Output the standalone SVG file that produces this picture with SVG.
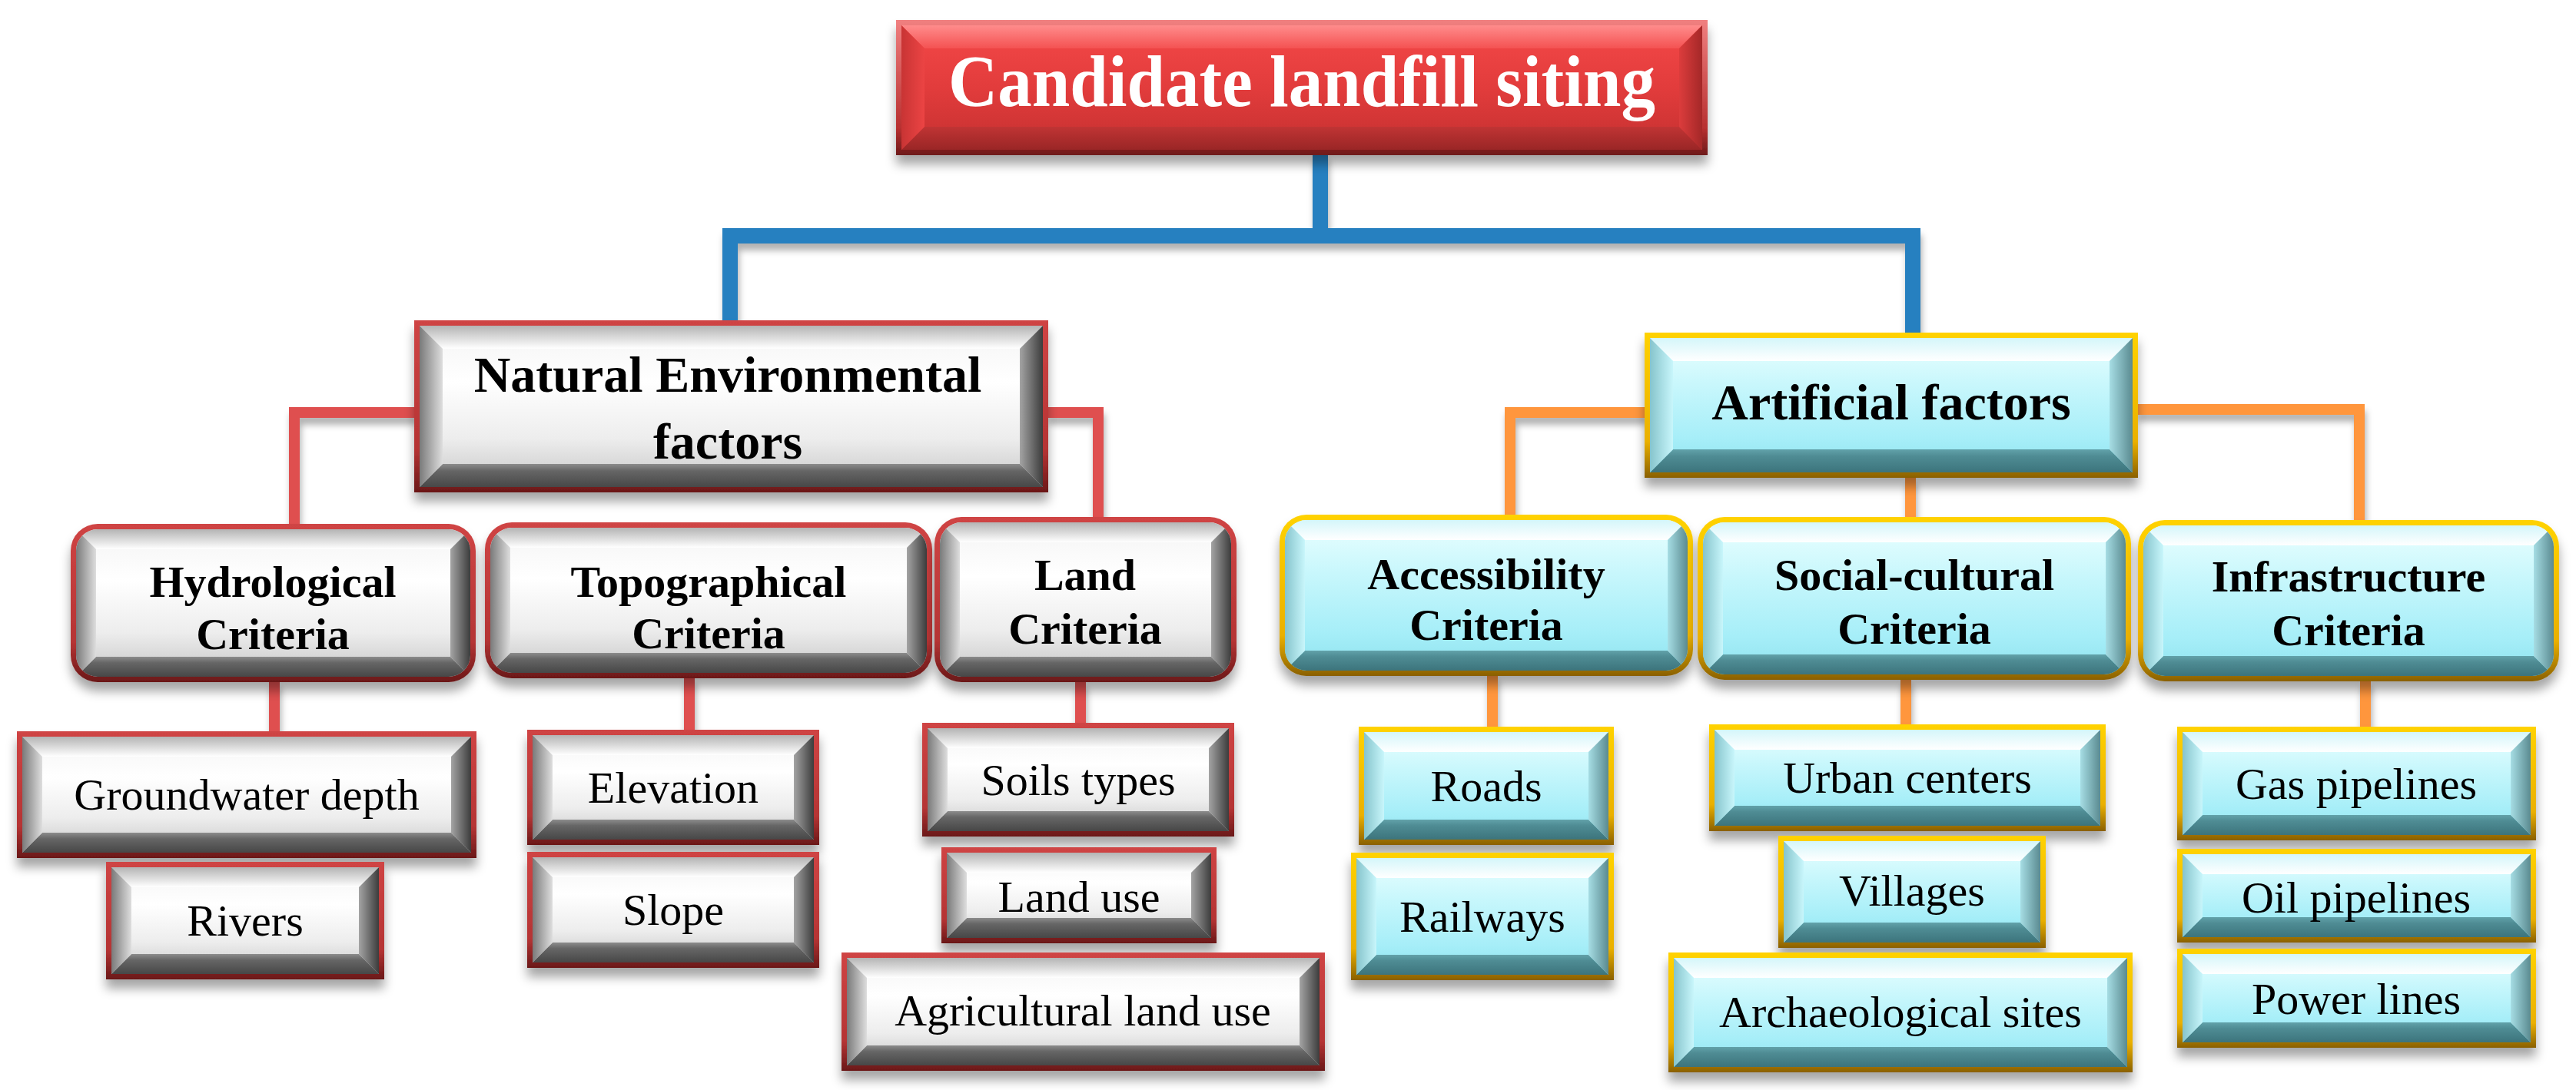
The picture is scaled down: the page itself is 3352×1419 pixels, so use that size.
<svg xmlns="http://www.w3.org/2000/svg" width="3352" height="1419" viewBox="0 0 3352 1419">
<defs>
<style>
.bR{fill:url(#bdRed)} .bG{fill:url(#bdGold)} .bT{fill:url(#bdTitle)}
.gc{fill:url(#gC)} .gt{fill:url(#gT)} .gb{fill:url(#gB)} .gl{fill:url(#gL)} .gr{fill:url(#gR)}
.cc{fill:url(#cC)} .ct{fill:url(#cT)} .cb{fill:url(#cB)} .cl{fill:url(#cL)} .cr{fill:url(#cR)}
.rc{fill:url(#rC)} .rt{fill:url(#rT)} .rb{fill:url(#rB)} .rl{fill:url(#rL)} .rr{fill:url(#rR)}
text{font-family:"Liberation Serif","Times New Roman",serif;text-anchor:middle;fill:#000}
.tt{font-size:95px;font-weight:bold;fill:#fff}
.tm{font-size:66px;font-weight:bold}
.tc{font-size:58px;font-weight:bold}
.tl{font-size:58px}
.cn{fill:none;stroke-linejoin:miter;stroke-linecap:butt}
.blue{stroke:#2780c0;stroke-width:20}
.red{stroke:#df4f4f;stroke-width:14}
.org{stroke:#ff963c;stroke-width:14}
</style>
<filter id="sh" x="-10%" y="-20%" width="120%" height="160%"><feDropShadow dx="0" dy="12" stdDeviation="7" flood-color="#000" flood-opacity="0.35"/></filter>
<filter id="shc" x="-20%" y="-20%" width="140%" height="140%"><feDropShadow dx="2" dy="9" stdDeviation="4" flood-color="#000" flood-opacity="0.3"/></filter>
<linearGradient id="bdRed" x1="0" y1="0" x2="0" y2="1"><stop offset="0" stop-color="#cf4444"/><stop offset="0.75" stop-color="#b53434"/><stop offset="1" stop-color="#6a1818"/></linearGradient>
<linearGradient id="bdGold" x1="0" y1="0" x2="0" y2="1"><stop offset="0" stop-color="#ffd200"/><stop offset="0.75" stop-color="#eab000"/><stop offset="1" stop-color="#8a6000"/></linearGradient>
<linearGradient id="bdTitle" x1="0" y1="0" x2="0" y2="1"><stop offset="0" stop-color="#f08080"/><stop offset="0.8" stop-color="#b83030"/><stop offset="1" stop-color="#6e1a1a"/></linearGradient>
<linearGradient id="gC" x1="0" y1="0" x2="0" y2="1"><stop offset="0" stop-color="#f4f4f4"/><stop offset="0.35" stop-color="#ffffff"/><stop offset="0.7" stop-color="#ededed"/><stop offset="1" stop-color="#c6c6c6"/></linearGradient>
<linearGradient id="gT" x1="0" y1="0" x2="0" y2="1"><stop offset="0" stop-color="#b4b4b4"/><stop offset="1" stop-color="#ffffff"/></linearGradient>
<linearGradient id="gB" x1="0" y1="0" x2="0" y2="1"><stop offset="0" stop-color="#8c8c8c"/><stop offset="0.3" stop-color="#666666"/><stop offset="1" stop-color="#474747"/></linearGradient>
<linearGradient id="gL" x1="0" y1="0" x2="1" y2="0"><stop offset="0" stop-color="#7a7a7a"/><stop offset="1" stop-color="#dedede"/></linearGradient>
<linearGradient id="gR" x1="0" y1="0" x2="1" y2="0"><stop offset="0" stop-color="#a4a4a4"/><stop offset="1" stop-color="#3c3c3c"/></linearGradient>
<linearGradient id="cC" x1="0" y1="0" x2="0" y2="1"><stop offset="0" stop-color="#eaffff"/><stop offset="0.35" stop-color="#c8f7fc"/><stop offset="0.75" stop-color="#a6eef8"/><stop offset="1" stop-color="#8ee2ee"/></linearGradient>
<linearGradient id="cT" x1="0" y1="0" x2="0" y2="1"><stop offset="0" stop-color="#d4f6fa"/><stop offset="1" stop-color="#ffffff"/></linearGradient>
<linearGradient id="cB" x1="0" y1="0" x2="0" y2="1"><stop offset="0" stop-color="#62a2aa"/><stop offset="0.3" stop-color="#4f8c94"/><stop offset="1" stop-color="#3c747c"/></linearGradient>
<linearGradient id="cL" x1="0" y1="0" x2="1" y2="0"><stop offset="0" stop-color="#86c4cc"/><stop offset="1" stop-color="#c8f6fb"/></linearGradient>
<linearGradient id="cR" x1="0" y1="0" x2="1" y2="0"><stop offset="0" stop-color="#a6dde4"/><stop offset="1" stop-color="#5a8a90"/></linearGradient>
<linearGradient id="rC" x1="0" y1="0" x2="0" y2="1"><stop offset="0" stop-color="#f44848"/><stop offset="0.5" stop-color="#e23c3c"/><stop offset="1" stop-color="#c53030"/></linearGradient>
<linearGradient id="rT" x1="0" y1="0" x2="0" y2="1"><stop offset="0" stop-color="#ff8c8c"/><stop offset="1" stop-color="#f45252"/></linearGradient>
<linearGradient id="rB" x1="0" y1="0" x2="0" y2="1"><stop offset="0" stop-color="#c03434"/><stop offset="1" stop-color="#9a2626"/></linearGradient>
<linearGradient id="rL" x1="0" y1="0" x2="1" y2="0"><stop offset="0" stop-color="#c83434"/><stop offset="1" stop-color="#ec4444"/></linearGradient>
<linearGradient id="rR" x1="0" y1="0" x2="1" y2="0"><stop offset="0" stop-color="#dc3c3c"/><stop offset="1" stop-color="#a42828"/></linearGradient>
<clipPath id="k-hydro"><rect x="7" y="7" width="513" height="192" rx="28"/></clipPath>
<clipPath id="k-topo"><rect x="7" y="7" width="568" height="189" rx="28"/></clipPath>
<clipPath id="k-land"><rect x="7" y="7" width="379" height="201" rx="28"/></clipPath>
<clipPath id="k-access"><rect x="7" y="7" width="524" height="196" rx="28"/></clipPath>
<clipPath id="k-social"><rect x="7" y="7" width="550" height="198" rx="28"/></clipPath>
<clipPath id="k-infra"><rect x="7" y="7" width="534" height="196" rx="28"/></clipPath>
</defs>
<rect width="3352" height="1419" fill="#ffffff"/>

<g id="connectors" filter="url(#shc)">
<path class="cn blue" d="M1718,200 V307"/>
<path class="cn blue" d="M950,420 V307 H2489 V436"/>
<path class="cn red" d="M541,537 H383 V684"/>
<path class="cn red" d="M1362,537 H1429 V676"/>
<path class="cn red" d="M357,886 V954"/>
<path class="cn red" d="M897,881 V952"/>
<path class="cn red" d="M1406,886 V943"/>
<path class="cn org" d="M2142,537 H1965 V672"/>
<path class="cn org" d="M2780,533 H3070 V679"/>
<path class="cn org" d="M2486,620 V675"/>
<path class="cn org" d="M1942,878 V948"/>
<path class="cn org" d="M2480,883 V945"/>
<path class="cn org" d="M3078,885 V948"/>
</g>

<g id="n-title" transform="translate(1166,26)">
<rect class="bT" width="1056" height="176" filter="url(#sh)"/>
<rect class="rc" x="7" y="7" width="1042" height="162"/>
<polygon class="rt" points="7,7 1049,7 1019,37 37,37"/>
<polygon class="rb" points="7,169 1049,169 1019,139 37,139"/>
<polygon class="rl" points="7,7 37,37 37,139 7,169"/>
<polygon class="rr" points="1049,7 1019,37 1019,139 1049,169"/>
<text class="tt" x="528" y="112" textLength="920" lengthAdjust="spacingAndGlyphs">Candidate landfill siting</text>
</g>

<g id="n-natural" transform="translate(539,417)">
<rect class="bR" width="825" height="224" filter="url(#sh)"/>
<rect class="gc" x="7" y="7" width="811" height="210"/>
<polygon class="gt" points="7,7 818,7 788,37 37,37"/>
<polygon class="gb" points="7,217 818,217 788,187 37,187"/>
<polygon class="gl" points="7,7 37,37 37,187 7,217"/>
<polygon class="gr" points="818,7 788,37 788,187 818,217"/>
<text class="tm" x="408" y="93">Natural Environmental</text>
<text class="tm" x="408" y="180">factors</text>
</g>

<g id="n-artificial" transform="translate(2140,433)">
<rect class="bG" width="642" height="189" filter="url(#sh)"/>
<rect class="cc" x="7" y="7" width="628" height="175"/>
<polygon class="ct" points="7,7 635,7 605,37 37,37"/>
<polygon class="cb" points="7,182 635,182 605,152 37,152"/>
<polygon class="cl" points="7,7 37,37 37,152 7,182"/>
<polygon class="cr" points="635,7 605,37 605,152 635,182"/>
<text class="tm" x="321" y="113">Artificial factors</text>
</g>

<g id="n-hydro" transform="translate(92,682)">
<rect class="bR" width="527" height="206" rx="35" filter="url(#sh)"/>
<g clip-path="url(#k-hydro)">
<rect class="gc" x="7" y="7" width="513" height="192"/>
<polygon class="gt" points="7,7 520,7 494,33 33,33"/>
<polygon class="gb" points="7,199 520,199 494,173 33,173"/>
<polygon class="gl" points="7,7 33,33 33,173 7,199"/>
<polygon class="gr" points="520,7 494,33 494,173 520,199"/>
</g>
<text class="tc" x="263" y="95">Hydrological</text>
<text class="tc" x="263" y="163">Criteria</text>
</g>

<g id="n-topo" transform="translate(631,680)">
<rect class="bR" width="582" height="203" rx="35" filter="url(#sh)"/>
<g clip-path="url(#k-topo)">
<rect class="gc" x="7" y="7" width="568" height="189"/>
<polygon class="gt" points="7,7 575,7 549,33 33,33"/>
<polygon class="gb" points="7,196 575,196 549,170 33,170"/>
<polygon class="gl" points="7,7 33,33 33,170 7,196"/>
<polygon class="gr" points="575,7 549,33 549,170 575,196"/>
</g>
<text class="tc" x="291" y="97">Topographical</text>
<text class="tc" x="291" y="164">Criteria</text>
</g>

<g id="n-land" transform="translate(1216,673)">
<rect class="bR" width="393" height="215" rx="35" filter="url(#sh)"/>
<g clip-path="url(#k-land)">
<rect class="gc" x="7" y="7" width="379" height="201"/>
<polygon class="gt" points="7,7 386,7 360,33 33,33"/>
<polygon class="gb" points="7,208 386,208 360,182 33,182"/>
<polygon class="gl" points="7,7 33,33 33,182 7,208"/>
<polygon class="gr" points="386,7 360,33 360,182 386,208"/>
</g>
<text class="tc" x="196" y="95">Land</text>
<text class="tc" x="196" y="165">Criteria</text>
</g>

<g id="n-access" transform="translate(1665,670)">
<rect class="bG" width="538" height="210" rx="35" filter="url(#sh)"/>
<g clip-path="url(#k-access)">
<rect class="cc" x="7" y="7" width="524" height="196"/>
<polygon class="ct" points="7,7 531,7 505,33 33,33"/>
<polygon class="cb" points="7,203 531,203 505,177 33,177"/>
<polygon class="cl" points="7,7 33,33 33,177 7,203"/>
<polygon class="cr" points="531,7 505,33 505,177 531,203"/>
</g>
<text class="tc" x="269" y="97">Accessibility</text>
<text class="tc" x="269" y="163">Criteria</text>
</g>

<g id="n-social" transform="translate(2209,673)">
<rect class="bG" width="564" height="212" rx="35" filter="url(#sh)"/>
<g clip-path="url(#k-social)">
<rect class="cc" x="7" y="7" width="550" height="198"/>
<polygon class="ct" points="7,7 557,7 531,33 33,33"/>
<polygon class="cb" points="7,205 557,205 531,179 33,179"/>
<polygon class="cl" points="7,7 33,33 33,179 7,205"/>
<polygon class="cr" points="557,7 531,33 531,179 557,205"/>
</g>
<text class="tc" x="282" y="95">Social-cultural</text>
<text class="tc" x="282" y="165">Criteria</text>
</g>

<g id="n-infra" transform="translate(2782,677)">
<rect class="bG" width="548" height="210" rx="35" filter="url(#sh)"/>
<g clip-path="url(#k-infra)">
<rect class="cc" x="7" y="7" width="534" height="196"/>
<polygon class="ct" points="7,7 541,7 515,33 33,33"/>
<polygon class="cb" points="7,203 541,203 515,177 33,177"/>
<polygon class="cl" points="7,7 33,33 33,177 7,203"/>
<polygon class="cr" points="541,7 515,33 515,177 541,203"/>
</g>
<text class="tc" x="274" y="93">Infrastructure</text>
<text class="tc" x="274" y="163">Criteria</text>
</g>

<g id="n-groundwater" transform="translate(22,952)">
<rect class="bR" width="598" height="165" filter="url(#sh)"/>
<rect class="gc" x="7" y="7" width="584" height="151"/>
<polygon class="gt" points="7,7 591,7 565,33 33,33"/>
<polygon class="gb" points="7,158 591,158 565,132 33,132"/>
<polygon class="gl" points="7,7 33,33 33,132 7,158"/>
<polygon class="gr" points="591,7 565,33 565,132 591,158"/>
<text class="tl" x="299" y="102">Groundwater depth</text>
</g>

<g id="n-rivers" transform="translate(138,1122)">
<rect class="bR" width="362" height="153" filter="url(#sh)"/>
<rect class="gc" x="7" y="7" width="348" height="139"/>
<polygon class="gt" points="7,7 355,7 329,33 33,33"/>
<polygon class="gb" points="7,146 355,146 329,120 33,120"/>
<polygon class="gl" points="7,7 33,33 33,120 7,146"/>
<polygon class="gr" points="355,7 329,33 329,120 355,146"/>
<text class="tl" x="181" y="96">Rivers</text>
</g>

<g id="n-elevation" transform="translate(686,950)">
<rect class="bR" width="380" height="150" filter="url(#sh)"/>
<rect class="gc" x="7" y="7" width="366" height="136"/>
<polygon class="gt" points="7,7 373,7 347,33 33,33"/>
<polygon class="gb" points="7,143 373,143 347,117 33,117"/>
<polygon class="gl" points="7,7 33,33 33,117 7,143"/>
<polygon class="gr" points="373,7 347,33 347,117 373,143"/>
<text class="tl" x="190" y="95">Elevation</text>
</g>

<g id="n-slope" transform="translate(686,1109)">
<rect class="bR" width="380" height="151" filter="url(#sh)"/>
<rect class="gc" x="7" y="7" width="366" height="137"/>
<polygon class="gt" points="7,7 373,7 347,33 33,33"/>
<polygon class="gb" points="7,144 373,144 347,118 33,118"/>
<polygon class="gl" points="7,7 33,33 33,118 7,144"/>
<polygon class="gr" points="373,7 347,33 347,118 373,144"/>
<text class="tl" x="190" y="95">Slope</text>
</g>

<g id="n-soils" transform="translate(1200,941)">
<rect class="bR" width="406" height="148" filter="url(#sh)"/>
<rect class="gc" x="7" y="7" width="392" height="134"/>
<polygon class="gt" points="7,7 399,7 373,33 33,33"/>
<polygon class="gb" points="7,141 399,141 373,115 33,115"/>
<polygon class="gl" points="7,7 33,33 33,115 7,141"/>
<polygon class="gr" points="399,7 373,33 373,115 399,141"/>
<text class="tl" x="203" y="94">Soils types</text>
</g>

<g id="n-landuse" transform="translate(1225,1103)">
<rect class="bR" width="358" height="125" filter="url(#sh)"/>
<rect class="gc" x="7" y="7" width="344" height="111"/>
<polygon class="gt" points="7,7 351,7 325,33 33,33"/>
<polygon class="gb" points="7,118 351,118 325,92 33,92"/>
<polygon class="gl" points="7,7 33,33 33,92 7,118"/>
<polygon class="gr" points="351,7 325,33 325,92 351,118"/>
<text class="tl" x="179" y="84">Land use</text>
</g>

<g id="n-agri" transform="translate(1095,1240)">
<rect class="bR" width="629" height="154" filter="url(#sh)"/>
<rect class="gc" x="7" y="7" width="615" height="140"/>
<polygon class="gt" points="7,7 622,7 596,33 33,33"/>
<polygon class="gb" points="7,147 622,147 596,121 33,121"/>
<polygon class="gl" points="7,7 33,33 33,121 7,147"/>
<polygon class="gr" points="622,7 596,33 596,121 622,147"/>
<text class="tl" x="314" y="95">Agricultural land use</text>
</g>

<g id="n-roads" transform="translate(1768,946)">
<rect class="bG" width="332" height="154" filter="url(#sh)"/>
<rect class="cc" x="7" y="7" width="318" height="140"/>
<polygon class="ct" points="7,7 325,7 299,33 33,33"/>
<polygon class="cb" points="7,147 325,147 299,121 33,121"/>
<polygon class="cl" points="7,7 33,33 33,121 7,147"/>
<polygon class="cr" points="325,7 299,33 299,121 325,147"/>
<text class="tl" x="166" y="97">Roads</text>
</g>

<g id="n-railways" transform="translate(1758,1110)">
<rect class="bG" width="342" height="166" filter="url(#sh)"/>
<rect class="cc" x="7" y="7" width="328" height="152"/>
<polygon class="ct" points="7,7 335,7 309,33 33,33"/>
<polygon class="cb" points="7,159 335,159 309,133 33,133"/>
<polygon class="cl" points="7,7 33,33 33,133 7,159"/>
<polygon class="cr" points="335,7 309,33 309,133 335,159"/>
<text class="tl" x="171" y="103">Railways</text>
</g>

<g id="n-urban" transform="translate(2224,943)">
<rect class="bG" width="516" height="139" filter="url(#sh)"/>
<rect class="cc" x="7" y="7" width="502" height="125"/>
<polygon class="ct" points="7,7 509,7 483,33 33,33"/>
<polygon class="cb" points="7,132 509,132 483,106 33,106"/>
<polygon class="cl" points="7,7 33,33 33,106 7,132"/>
<polygon class="cr" points="509,7 483,33 483,106 509,132"/>
<text class="tl" x="258" y="89">Urban centers</text>
</g>

<g id="n-villages" transform="translate(2314,1088)">
<rect class="bG" width="348" height="146" filter="url(#sh)"/>
<rect class="cc" x="7" y="7" width="334" height="132"/>
<polygon class="ct" points="7,7 341,7 315,33 33,33"/>
<polygon class="cb" points="7,139 341,139 315,113 33,113"/>
<polygon class="cl" points="7,7 33,33 33,113 7,139"/>
<polygon class="cr" points="341,7 315,33 315,113 341,139"/>
<text class="tl" x="174" y="91">Villages</text>
</g>

<g id="n-archaeo" transform="translate(2171,1240)">
<rect class="bG" width="604" height="156" filter="url(#sh)"/>
<rect class="cc" x="7" y="7" width="590" height="142"/>
<polygon class="ct" points="7,7 597,7 571,33 33,33"/>
<polygon class="cb" points="7,149 597,149 571,123 33,123"/>
<polygon class="cl" points="7,7 33,33 33,123 7,149"/>
<polygon class="cr" points="597,7 571,33 571,123 597,149"/>
<text class="tl" x="302" y="97">Archaeological sites</text>
</g>

<g id="n-gas" transform="translate(2833,946)">
<rect class="bG" width="467" height="148" filter="url(#sh)"/>
<rect class="cc" x="7" y="7" width="453" height="134"/>
<polygon class="ct" points="7,7 460,7 434,33 33,33"/>
<polygon class="cb" points="7,141 460,141 434,115 33,115"/>
<polygon class="cl" points="7,7 33,33 33,115 7,141"/>
<polygon class="cr" points="460,7 434,33 434,115 460,141"/>
<text class="tl" x="233" y="94">Gas pipelines</text>
</g>

<g id="n-oil" transform="translate(2833,1105)">
<rect class="bG" width="467" height="122" filter="url(#sh)"/>
<rect class="cc" x="7" y="7" width="453" height="108"/>
<polygon class="ct" points="7,7 460,7 434,33 33,33"/>
<polygon class="cb" points="7,115 460,115 434,89 33,89"/>
<polygon class="cl" points="7,7 33,33 33,89 7,115"/>
<polygon class="cr" points="460,7 434,33 434,89 460,115"/>
<text class="tl" x="233" y="83">Oil pipelines</text>
</g>

<g id="n-power" transform="translate(2833,1235)">
<rect class="bG" width="467" height="129" filter="url(#sh)"/>
<rect class="cc" x="7" y="7" width="453" height="115"/>
<polygon class="ct" points="7,7 460,7 434,33 33,33"/>
<polygon class="cb" points="7,122 460,122 434,96 33,96"/>
<polygon class="cl" points="7,7 33,33 33,96 7,122"/>
<polygon class="cr" points="460,7 434,33 434,96 460,122"/>
<text class="tl" x="233" y="85">Power lines</text>
</g>
</svg>
